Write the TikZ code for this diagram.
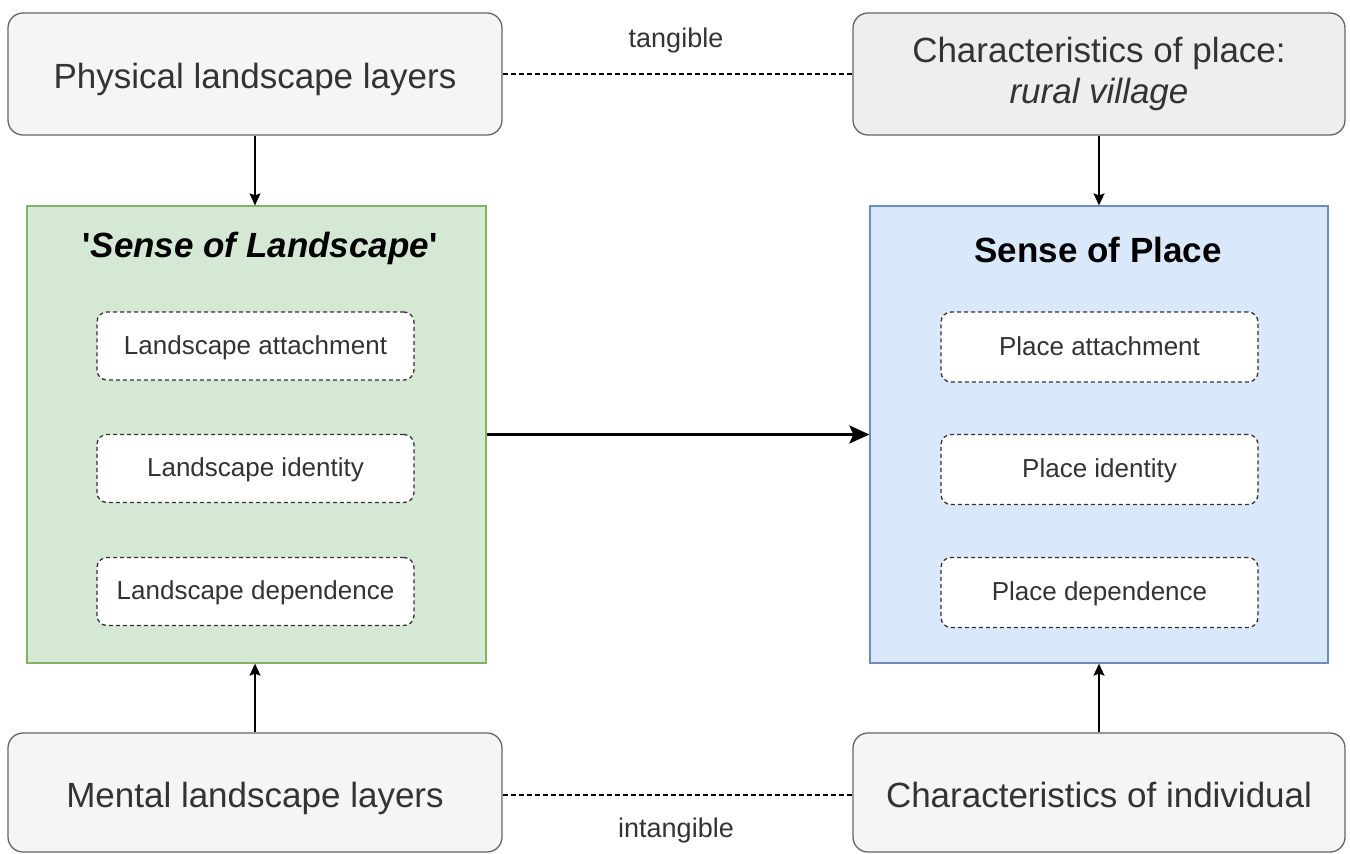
\documentclass[tikz,border=0pt]{standalone}
\usepackage{fontspec}
\setmainfont{Liberation Sans}
\usetikzlibrary{arrows.meta}
\definecolor{txt}{HTML}{333333}
\definecolor{greyline}{HTML}{666666}
\definecolor{greyfill}{HTML}{F5F5F5}
\definecolor{greyfilltwo}{HTML}{EEEEEE}
\definecolor{greenfill}{HTML}{D5E8D4}
\definecolor{greenline}{HTML}{82B366}
\definecolor{bluefill}{HTML}{DAE8FC}
\definecolor{blueline}{HTML}{6C8EBF}
\tikzset{
  greybox/.style={draw=greyline, fill=greyfill, line width=1.3pt, rounded corners=15pt,
    minimum width=494pt, minimum height=122pt, inner sep=0pt, align=center,
    text=txt, font=\fontsize{35}{41}\selectfont},
  oneline/.style={text height=29pt, text depth=0pt},
  bigbox/.style={line width=1.3pt, minimum width=459pt, minimum height=457pt, inner sep=0pt},
  innerbox/.style={draw=txt, fill=white, line width=1.3pt, dash pattern=on 4pt off 3pt,
    rounded corners=10pt, minimum width=317pt, minimum height=68pt, inner sep=0pt,
    text=txt, font=\fontsize{26}{30}\selectfont, text height=16pt, text depth=0pt},
  titletext/.style={font=\fontsize{35}{40}\selectfont\bfseries, text=black, inner sep=0pt},
  lbl/.style={font=\fontsize{27}{30}\selectfont, text=txt, inner sep=0pt},
  arr/.style={-{Stealth[length=12pt,width=11pt,inset=2pt]}, line width=1.3pt, black},
  dashline/.style={line width=1.1pt, dash pattern=on 5pt off 3pt, black}
}
\begin{document}
\begin{tikzpicture}[x=1pt,y=-1pt]
\useasboundingbox (0,0) rectangle (1350,854);
% big boxes
\node[bigbox, draw=greenline, fill=greenfill] (sol) at (256.5,434.5) {};
\node[bigbox, draw=blueline, fill=bluefill, minimum width=458pt] (sop) at (1099,434.5) {};
\node[titletext] (solt) at (260,248) {\textquotesingle\textit{Sense of Landscape}\textquotesingle};
\node[titletext] (sopt) at (1098,250) {Sense of Place};
% inner boxes
\node[innerbox] (la) at (255.5,346) {Landscape attachment};
\node[innerbox] (li) at (255.5,468.5) {Landscape identity};
\node[innerbox] (ld) at (255.5,591.5) {Landscape dependence};
\node[innerbox, minimum height=70pt] (pa) at (1099.5,347) {Place attachment};
\node[innerbox, minimum height=70pt] (pi) at (1099.5,469.5) {Place identity};
\node[innerbox, minimum height=70pt] (pd) at (1099.5,592.5) {Place dependence};
% grey boxes
\node[greybox, oneline] (phys) at (255,74) {Physical landscape layers};
\node[greybox, fill=greyfilltwo, minimum width=492pt] (char) at (1099,74) {Characteristics of place:\\\textit{rural village}};
\node[greybox, oneline, minimum height=119pt] (ment) at (255,792.5) {Mental landscape layers};
\node[greybox, oneline, minimum width=492pt, minimum height=119pt] (indiv) at (1099,792.5) {Characteristics of individual};
% connectors
\draw[arr] (phys.south) -- (phys.south |- sol.north);
\draw[arr] (char.south) -- (char.south |- sop.north);
\draw[arr] (ment.north) -- (ment.north |- sol.south);
\draw[arr] (indiv.north) -- (indiv.north |- sop.south);
\draw[-{Stealth[length=20pt,width=18pt,inset=4pt]}, line width=2.6pt, black] (sol.east) -- (sop.west);
\draw[dashline] (phys.east) -- (char.west);
\draw[dashline] (ment.east |- 0,795) coordinate (m1) -- (indiv.west |- 0,795) coordinate (m2);
\node[lbl] (tang) at (676,41) {tangible};
\node[lbl] (intang) at (676,831) {intangible};
\end{tikzpicture}
\end{document}
